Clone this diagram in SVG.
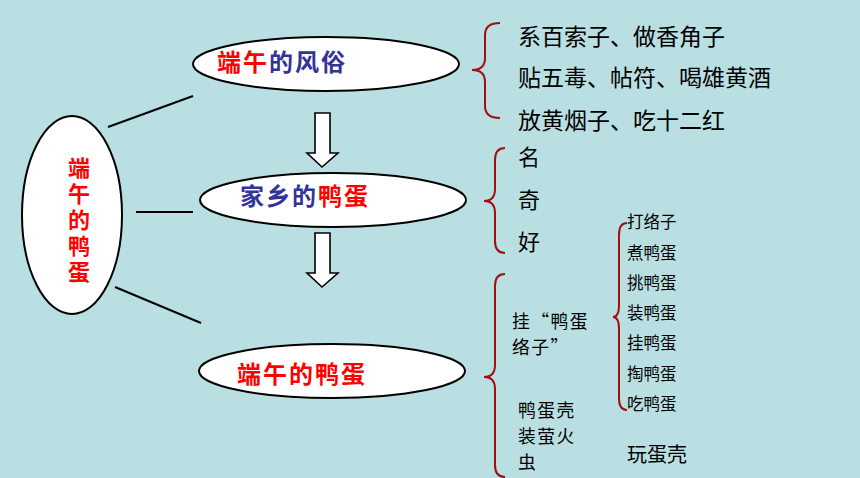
<svg xmlns="http://www.w3.org/2000/svg" width="860" height="478" viewBox="0 0 860 478">
<style>
.bg{fill:#b9dfe2}
.el{fill:#fff;stroke:#000;stroke-width:2}
.ln{stroke:#000;stroke-width:2;fill:none}
.br{stroke:#a01010;stroke-width:2;fill:none}
.arr{fill:#fff;stroke:#000;stroke-width:1.6}
.t{font-family:"Noto Sans CJK SC","Noto Sans CJK JP",sans-serif;fill:#000;dominant-baseline:central}
.h{font-family:"Noto Sans CJK SC","Noto Sans CJK JP",sans-serif;font-weight:700;font-size:24px;dominant-baseline:central}
.r{fill:#ff0000}
.b{fill:#333399}
.m{font-size:17.8px;letter-spacing:1.5px}
</style>
<rect class="bg" x="0" y="0" width="860" height="478"/>
<g id="connectors">
<line class="ln" x1="108" y1="127" x2="193" y2="96"/>
<line class="ln" x1="136" y1="212" x2="193" y2="212"/>
<line class="ln" x1="115" y1="287" x2="201" y2="323"/>
<path class="arr" d="M315,113 H330 V153 H338 L322,167 L307,153 H315 Z"/>
<path class="arr" d="M315,233 H330 V273 H338 L322,287 L307,273 H315 Z"/>
<path class="br" d="M500,23 Q485,23 485,35 L485,58 Q485,70 472,70 Q485,70 485,82 L485,106 Q485,118 500,118"/>
<path class="br" d="M505,148 Q495,148 495,160 L495,189 Q495,201 484,201 Q495,201 495,213 L495,241 Q495,253 505,253"/>
<path class="br" d="M505,274 Q495,274 495,286 L495,365 Q495,377 484,377 Q495,377 495,389 L495,465 Q495,477 505,477"/>
<path class="br" d="M627,223 Q619,223 619,235 L619,305 Q619,317 613,317 Q619,317 619,329 L619,398 Q619,410 627,410"/>
</g>
<g id="node-root">
<ellipse class="el" cx="72" cy="215" rx="50" ry="99"/>
<text class="h r" x="79" y="157" writing-mode="tb" letter-spacing="4" style="font-size:22px;writing-mode:vertical-rl;dominant-baseline:auto">端午的鸭蛋</text>
</g>
<g id="node-customs">
<ellipse class="el" cx="326" cy="64" rx="133" ry="27"/>
<text class="h" x="217" y="60" letter-spacing="2"><tspan class="r">端午</tspan><tspan class="b">的风俗</tspan></text>
</g>
<g id="node-hometown">
<ellipse class="el" cx="333" cy="200" rx="133" ry="27"/>
<text class="h" x="240" y="194" letter-spacing="2"><tspan class="b">家乡的</tspan><tspan class="r">鸭蛋</tspan></text>
</g>
<g id="node-festival">
<ellipse class="el" cx="332" cy="371" rx="133" ry="27"/>
<text class="h r" x="237" y="372" letter-spacing="2">端午的鸭蛋</text>
</g>
<g id="node-customs-list">
<text class="t" x="518" y="35" style="font-size:23px">系百索子、做香角子</text>
<text class="t" x="518" y="76" style="font-size:23px">贴五毒、帖符、喝雄黄酒</text>
<text class="t" x="518" y="119" style="font-size:23px">放黄烟子、吃十二红</text>
</g>
<g id="node-traits">
<text class="t" x="518" y="155" style="font-size:22px">名</text>
<text class="t" x="518" y="198" style="font-size:22px">奇</text>
<text class="t" x="518" y="240" style="font-size:22px">好</text>
</g>
<g id="node-net">
<text class="t m" x="512" y="320">挂“鸭蛋</text>
<text class="t m" x="512" y="346">络子”</text>
</g>
<g id="node-shell">
<text class="t m" x="518" y="409">鸭蛋壳</text>
<text class="t m" x="518" y="435">装萤火</text>
<text class="t m" x="518" y="461">虫</text>
</g>
<g id="node-steps">
<text class="t" x="627" y="221" style="font-size:16.5px">打络子</text>
<text class="t" x="627" y="252" style="font-size:16.5px">煮鸭蛋</text>
<text class="t" x="627" y="282" style="font-size:16.5px">挑鸭蛋</text>
<text class="t" x="627" y="312" style="font-size:16.5px">装鸭蛋</text>
<text class="t" x="627" y="342" style="font-size:16.5px">挂鸭蛋</text>
<text class="t" x="627" y="373" style="font-size:16.5px">掏鸭蛋</text>
<text class="t" x="627" y="403" style="font-size:16.5px">吃鸭蛋</text>
</g>
<g id="node-play">
<text class="t" x="627" y="453" style="font-size:20px">玩蛋壳</text>
</g>
</svg>
